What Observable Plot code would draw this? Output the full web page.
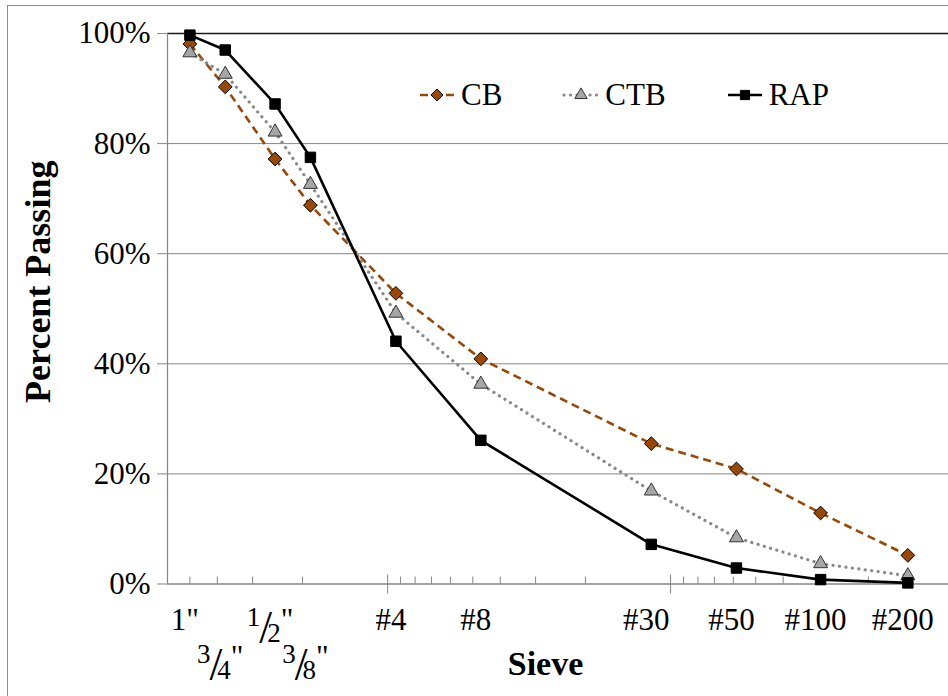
<!DOCTYPE html>
<html><head><meta charset="utf-8">
<script src="https://cdn.jsdelivr.net/npm/d3@7"></script>
<script src="https://cdn.jsdelivr.net/npm/@observablehq/plot@0.6"></script>
<style>
html,body{margin:0;padding:0;background:#fff;overflow:hidden;}
#wrap{position:relative;width:948px;height:696px;overflow:hidden;background:#fff;}
#border{position:absolute;left:7px;top:5px;width:1000px;height:1000px;border:1px solid #8c8c8c;pointer-events:none;}
#legend{position:absolute;left:418px;top:79px;display:flex;gap:60px;font-family:"Liberation Serif","Times New Roman",serif;font-size:31px;line-height:32px;color:#000;}
.item{display:flex;align-items:center;}
.item span{margin-left:5px;}
</style></head><body>
<div id="wrap"><div id="chart"></div><div id="border"></div><div id="legend"></div></div>
<script>
// ---- data ----
const sieveLabels = ['1"', '3/4"', '1/2"', '3/8"', '#4', '#8', '#30', '#50', '#100', '#200'];
const sieveSizeIn = [1, 0.75, 0.5, 0.375, 0.187, 0.0937, 0.0234, 0.0117, 0.0059, 0.0029];
const seriesNames = ["CB", "CTB", "RAP"];
const cbPassing  = [98.1, 90.3, 77.2, 68.8, 52.8, 40.9, 25.5, 20.9, 12.9, 5.2];
const ctbPassing = [96.5, 92.6, 82.1, 72.6, 49.2, 36.3, 16.9, 8.4, 3.7, 1.5];
const rapPassing = [99.7, 97.0, 87.2, 77.5, 44.1, 26.1, 7.2, 2.9, 0.8, 0.2];
const yTicks = [0, 20, 40, 60, 80, 100];
const xDomain = [1.2, 0.002];
const xMajorTicks = [0.2, 0.02];

// ---- styles ----
const FONT = '"Liberation Serif","Times New Roman",serif';
const GRID = "#868686";
const styles = {
  CB:  {stroke: "#984807", width: 2.6, dash: "8 5", cap: "butt", symbol: "diamond2", d3sym: d3.symbolDiamond2, fill: "#984807", dotStroke: "#000", r: 6.2},
  CTB: {stroke: "#8a8a8a", width: 3.2, dash: "0.1 6.4", cap: "round", symbol: "triangle", d3sym: d3.symbolTriangle, fill: "#a6a6a6", dotStroke: "#333", r: 5.2},
  RAP: {stroke: "#000", width: 2.6, dash: null, cap: "butt", symbol: "square", d3sym: d3.symbolSquare, fill: "#000", dotStroke: "#000", r: 5.9}
};
const seriesValues = {CB: cbPassing, CTB: ctbPassing, RAP: rapPassing};

const xMinorTicks = [0.2, 0.02, 0.002]
  .flatMap(m => d3.range(2, 10).map(k => +(k * m).toPrecision(6)))
  .filter(v => v < xDomain[0] && v > xDomain[1] && !xMajorTicks.includes(v));

const rows = seriesNames.flatMap(s => sieveSizeIn.map((x, i) => ({series: s, size: x, pass: seriesValues[s][i]})));

const labelRows = sieveLabels.map((l, i) => ({size: sieveSizeIn[i], label: l, low: i < 4 && i % 2 === 1}));
const row1Labels = labelRows.filter(d => !d.low);
const row2Labels = labelRows.filter(d => d.low);

const LDX = -5;                 // uniform label shift
const ROW1 = 45.5, ROW2 = 82.5; // label baselines below the frame bottom
const TXT = {frameAnchor: "bottom", lineAnchor: "middle", textAnchor: "middle", fontFamily: FONT, fill: "#000"};

const seriesMarks = seriesNames.flatMap(s => {
  const st = styles[s];
  const data = rows.filter(d => d.series === s);
  return [
    Plot.line(data, {x: "size", y: "pass", stroke: st.stroke, strokeWidth: st.width, strokeDasharray: st.dash, strokeLinecap: st.cap, strokeLinejoin: "round"}),
    Plot.dot(data, {x: "size", y: "pass", symbol: st.symbol, r: st.r, fill: st.fill, stroke: st.dotStroke, strokeWidth: 1})
  ];
});

const chart = Plot.plot({
  width: 948,
  height: 696,
  marginLeft: 167,
  marginRight: -5,
  marginTop: 33,
  marginBottom: 112.5,
  style: {fontFamily: FONT, background: "transparent", overflow: "visible"},
  x: {type: "log", domain: xDomain, label: null},
  y: {domain: [0, 100], label: null},
  marks: [
    Plot.ruleY(yTicks.filter(v => v > 0 && v < 100), {stroke: GRID, strokeWidth: 1}),
    Plot.ruleY([100], {stroke: "#1a1a1a", strokeWidth: 1.6}),
    Plot.ruleX([xDomain[0]], {stroke: GRID, strokeWidth: 1.2}),
    Plot.ruleY([0], {stroke: GRID, strokeWidth: 1.5}),
    Plot.axisY({ticks: yTicks, tickFormat: d => d + "%", tickSize: 10, tickPadding: 7, fontSize: 31, fontFamily: FONT, stroke: GRID, fill: "#000", label: null}),
    Plot.axisX({ticks: xMinorTicks, tickSize: -7, tickFormat: () => "", stroke: GRID, label: null}),
    Plot.axisX({ticks: xMajorTicks, tickSize: -9, tickFormat: () => "", stroke: GRID, label: null}),
    Plot.axisX({ticks: xMajorTicks, tickSize: 10, tickFormat: () => "", stroke: GRID, label: null}),
    ...seriesMarks,
    Plot.text(row1Labels, {...TXT, x: "size", text: "label", dx: LDX, dy: ROW1 - 9.9, fontSize: 31}),
    Plot.text(row2Labels, {...TXT, x: "size", text: "label", dx: LDX, dy: ROW2 - 9.9, fontSize: 31}),
    Plot.text(["Sieve"], {...TXT, text: d => d, dx: -15, dy: 80, fontSize: 34, fontWeight: "bold"}),
    Plot.text(["Percent Passing"], {...TXT, frameAnchor: "left", text: d => d, rotate: -90, dx: -129, dy: -27, fontSize: 36, fontWeight: "bold"})
  ]
});
document.getElementById("chart").appendChild(chart);

// render the fraction labels as stacked fractions (numerator / slash / denominator) in one text element
d3.select(chart).selectAll("text")
  .filter(function() { return sieveLabels.includes(this.textContent) && this.textContent.includes("/"); })
  .each(function() {
    const t = d3.select(this);
    const [num, rest] = t.text().split("/");
    const den = rest.replace('"', '');
    t.text(null);
    t.append("tspan").attr("font-size", 27).attr("dy", -4).text(num);
    t.append("tspan").attr("font-size", 46).attr("dx", -1).attr("dy", 17).text("/");
    t.append("tspan").attr("font-size", 27).attr("dx", -5).attr("dy", -1).text(den);
    t.append("tspan").attr("font-size", 31).attr("dx", 0).attr("dy", -12).text('"');
  });

// ---- legend ----
const legend = d3.select("#legend");
seriesNames.forEach(name => {
  const st = styles[name];
  const item = legend.append("div").attr("class", "item");
  const svg = item.append("svg").attr("width", 38).attr("height", 24);
  svg.append("line").attr("x1", 2).attr("x2", 36).attr("y1", 12).attr("y2", 12)
    .attr("stroke", st.stroke).attr("stroke-width", st.width)
    .attr("stroke-dasharray", st.dash).attr("stroke-linecap", st.cap);
  svg.append("path").attr("transform", "translate(19,12)")
    .attr("d", d3.symbol(st.d3sym, Math.PI * (st.r * 0.88) ** 2)())
    .attr("fill", st.fill).attr("stroke", st.dotStroke).attr("stroke-width", 1);
  item.append("span").text(name);
});
</script>
</body></html>
